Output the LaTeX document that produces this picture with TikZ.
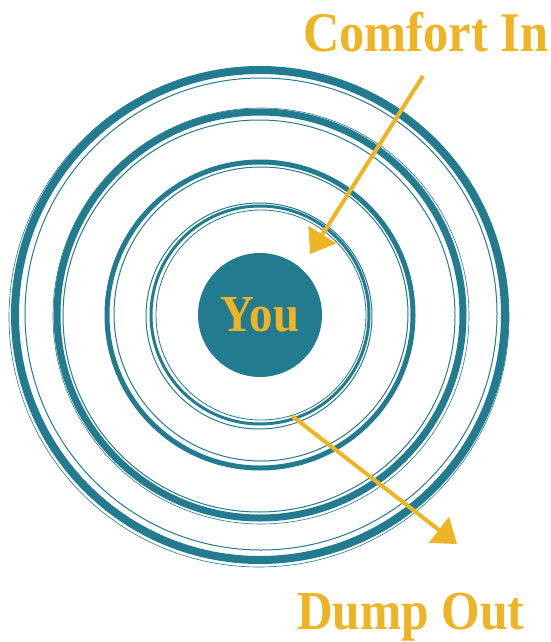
\documentclass[tikz,border=0pt]{standalone}
\usepackage{fontspec}
\setmainfont{Liberation Serif}
\newfontfamily\labelfont[FakeStretch=0.9]{Liberation Serif}
\usetikzlibrary{arrows.meta}
\definecolor{ringteal}{HTML}{237B8F}
\definecolor{arrowgold}{HTML}{EFB424}

\begin{document}
\begin{tikzpicture}[x=1pt, y=-1pt,
    ring/.style={draw=ringteal},
    ringThin/.style={draw=ringteal, line width=1pt},
    centre/.style={circle, fill=ringteal, minimum size=124pt, inner sep=0pt, text=arrowgold, font=\labelfont\bfseries\fontsize{52}{52}\selectfont},
    caption/.style={anchor=base west, inner sep=0pt, text=arrowgold, font=\labelfont\bfseries\fontsize{56}{56}\selectfont},
    flow/.style={draw=arrowgold, line width=4pt, -{Triangle[length=23pt, width=32pt]}}
]
    \useasboundingbox (0,0) rectangle (550,642);

    \node[centre] (you) at (260,315) {You};

    % rings, drawn as a few loose strokes each
    \draw[ring, line width=8pt] (you.center) circle[radius=245pt];
    \draw[ringThin] ([shift={(1,-1)}]you.center) circle[radius=236pt];
    \draw[ringThin, line width=0.6pt] ([shift={(-1,2)}]you.center) circle[radius=250pt];

    \draw[ring, line width=7pt] (you.center) circle[radius=203pt];
    \draw[ringThin] ([shift={(-1,1)}]you.center) circle[radius=196pt];
    \draw[ringThin, line width=0.6pt] ([shift={(1,1)}]you.center) circle[radius=208pt];

    \draw[ring, line width=5pt] (you.center) circle[radius=153pt];
    \draw[ringThin] ([shift={(1,-1)}]you.center) circle[radius=147pt];

    \draw[ring, line width=3pt] (you.center) circle[radius=109pt];
    \draw[ringThin] ([shift={(-1,1)}]you.center) circle[radius=113pt];
    \draw[ringThin, line width=0.8pt] ([shift={(1,0)}]you.center) circle[radius=105pt];

    \node[caption] (comfortLabel) at (303,52) {Comfort In};
    \node[caption, font=\labelfont\bfseries\fontsize{55}{55}\selectfont] (dumpLabel) at (297,629) {Dump Out};

    \coordinate (inStart) at (423,76);
    \coordinate (inEnd) at (310,254);
    \coordinate (outStart) at (292,416);
    \coordinate (outEnd) at (457,544);

    \draw[flow] (inStart) -- (inEnd);
    \draw[flow] (outStart) -- (outEnd);
\end{tikzpicture}
\end{document}
